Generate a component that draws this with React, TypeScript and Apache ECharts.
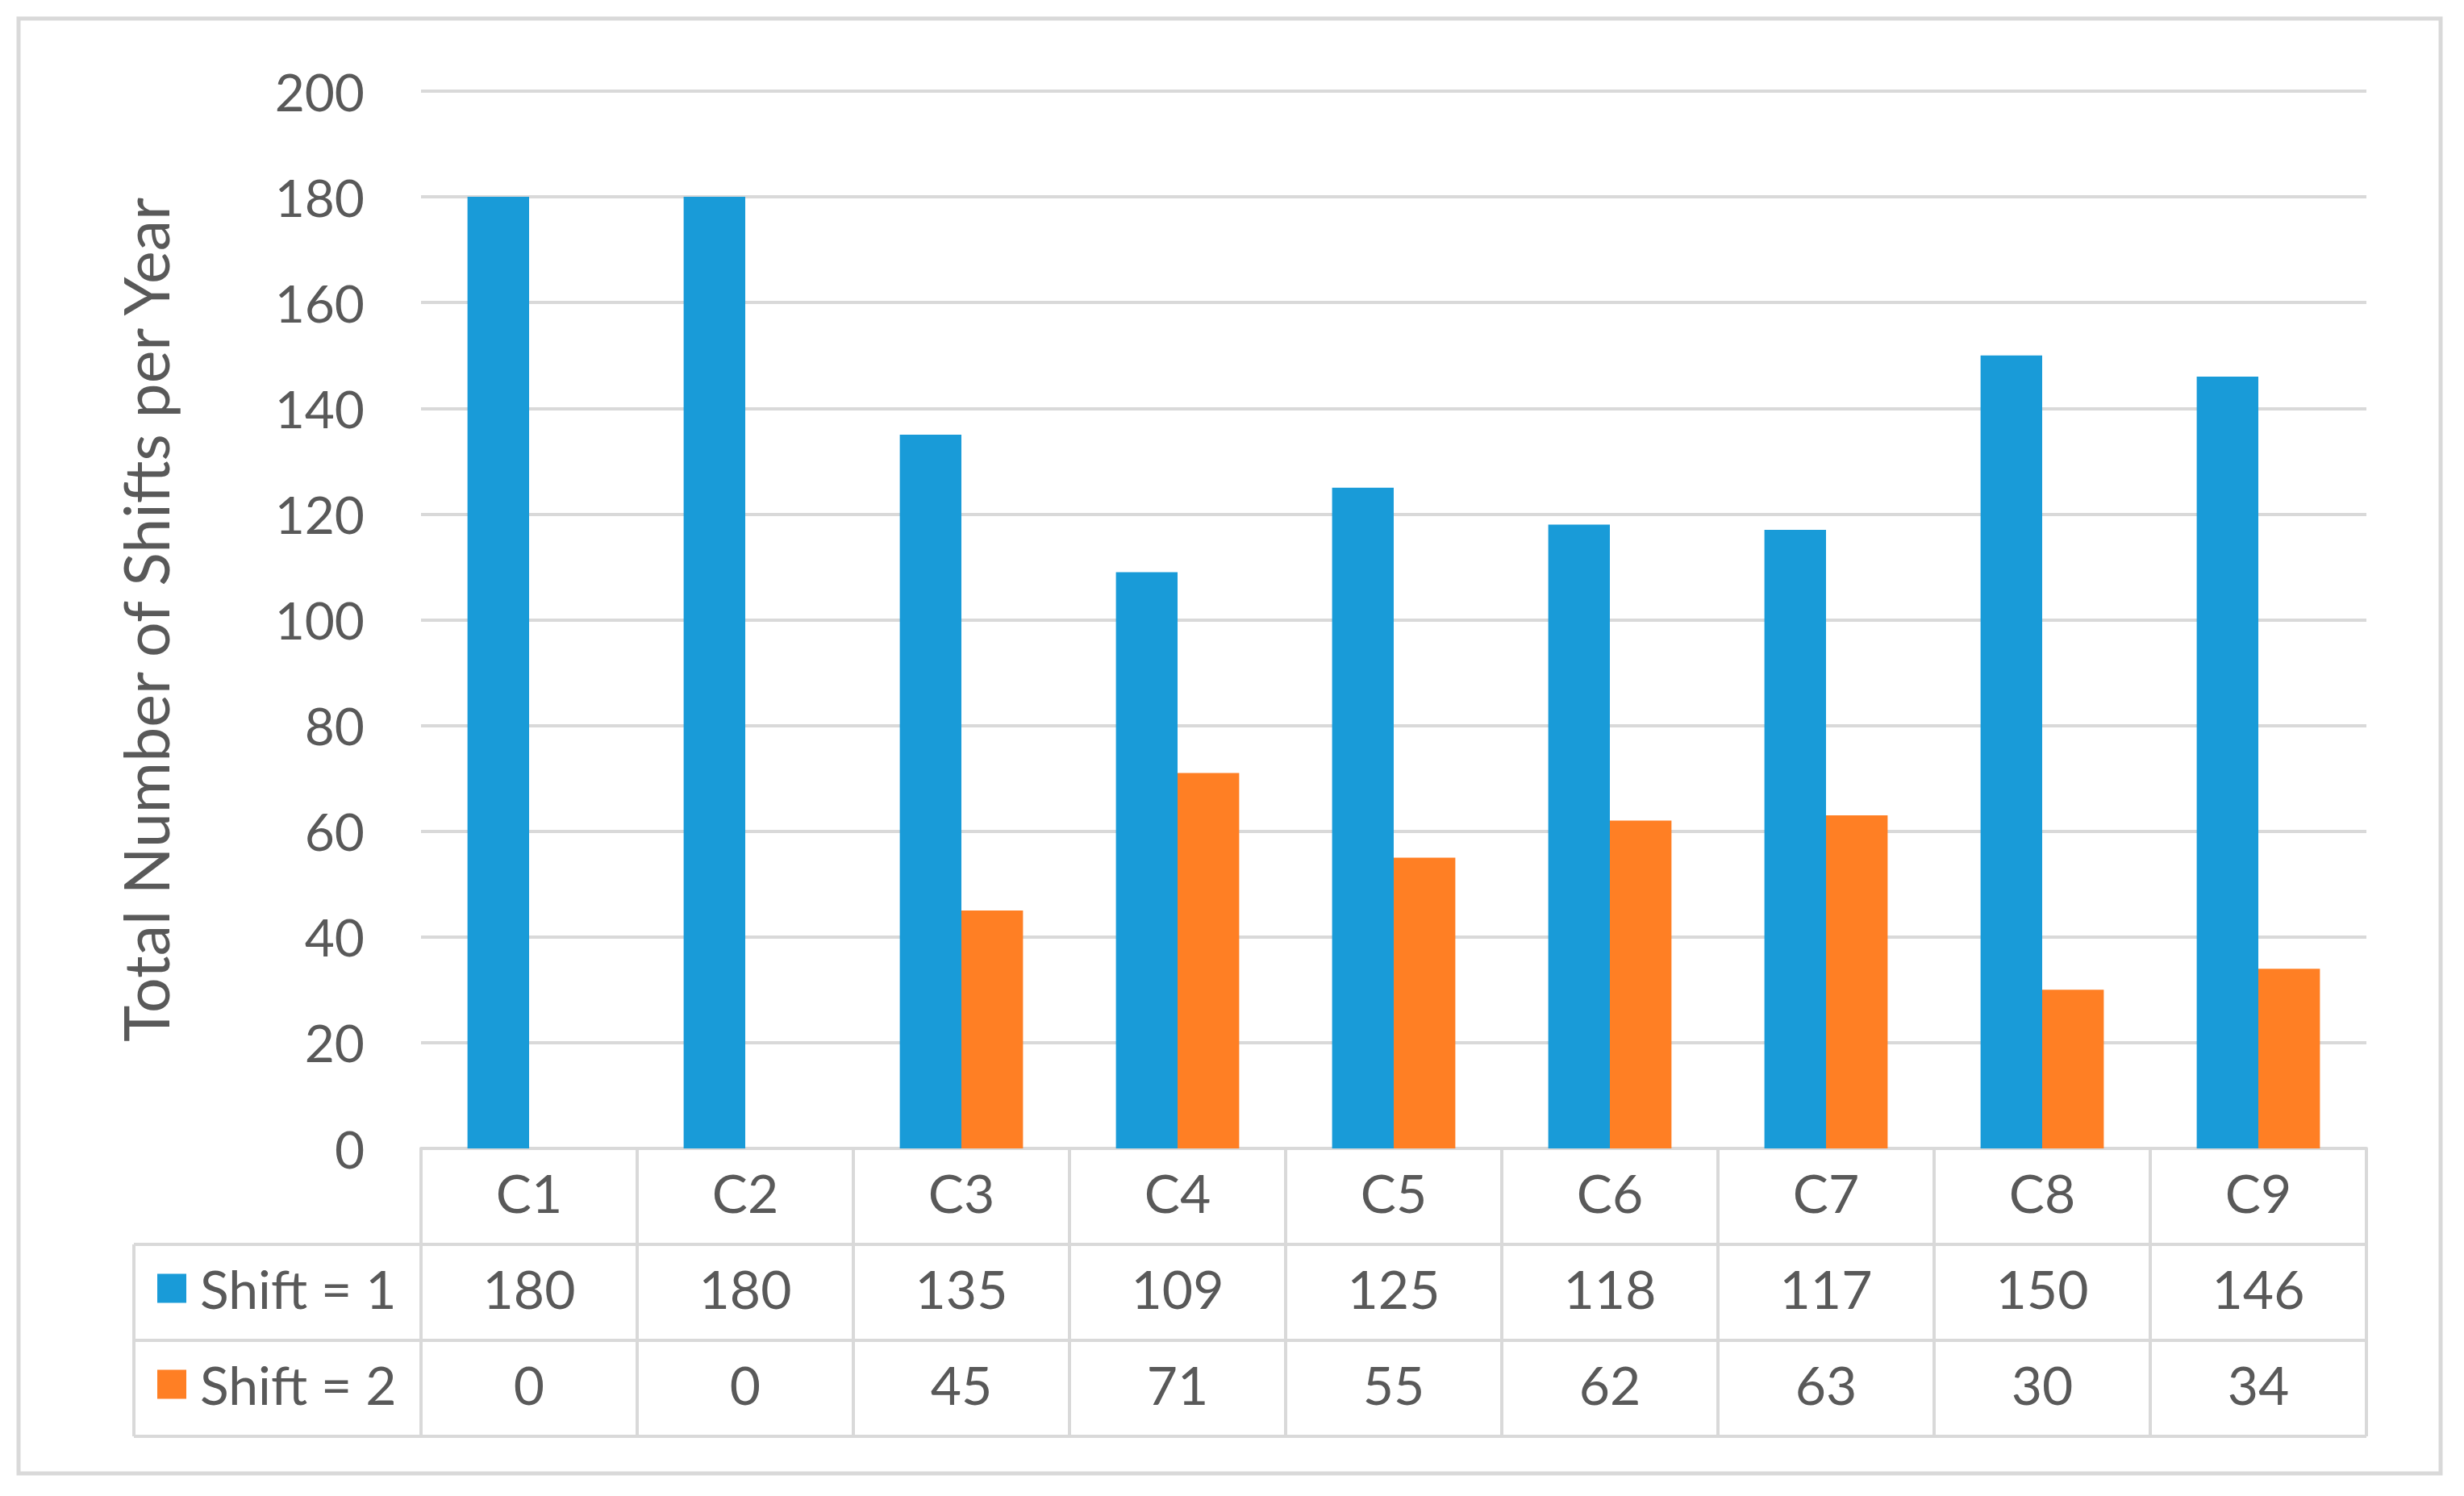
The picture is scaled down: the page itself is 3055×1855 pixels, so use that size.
import React, { useEffect, useRef } from 'react';
import * as echarts from 'echarts';

const categories = ['C1', 'C2', 'C3', 'C4', 'C5', 'C6', 'C7', 'C8', 'C9'];
const shiftOne = [180, 180, 135, 109, 125, 118, 117, 150, 146];
const shiftTwo = [0, 0, 45, 71, 55, 62, 63, 30, 34];
const seriesNames = ['Shift = 1', 'Shift = 2'];
const yAxisTitle = 'Total Number of Shifts per Year';
const yMin = 0;
const yMax = 200;
const yStep = 20;

const W = 3055;
const H = 1855;
const GRID = { left: 522, right: 121, top: 113, bottom: 431 };
const ROW_H = 119;
const TABLE_LEFT = 166;
const COLORS = ['#199bd8', '#ff7f24'];
const LINE = '#d9d9d9';
const TEXT = '#595959';
const FONT = 'Lato, "Liberation Sans", sans-serif';
const FS = 64;
const TFS = 66;

export default function App() {
  const ref = useRef<HTMLDivElement>(null);
  useEffect(() => {
    const chart = echarts.init(ref.current as HTMLDivElement, null, { renderer: 'svg', width: W, height: H });
    const axisY = H - GRID.bottom;
    const gridRight = W - GRID.right;
    const rowLines = [1, 2, 3].map((i) => axisY + i * ROW_H);
    const values = [shiftOne, shiftTwo];
    chart.setOption({
      animation: false,
      backgroundColor: '#ffffff',
      textStyle: { fontFamily: FONT },
      color: COLORS,
      grid: { left: GRID.left, right: GRID.right, top: GRID.top, bottom: GRID.bottom, containLabel: false },
      legend: {
        orient: 'vertical',
        left: 195,
        top: axisY + ROW_H - 5,
        padding: 0,
        itemGap: 0,
        itemWidth: 36,
        itemHeight: 36,
        icon: 'rect',
        selectedMode: false,
        textStyle: { fontSize: TFS, color: TEXT, lineHeight: ROW_H, padding: [0, 0, 0, 12], fontFamily: FONT },
        data: seriesNames,
      },
      xAxis: {
        type: 'category',
        data: categories,
        axisLine: { show: true, lineStyle: { color: LINE, width: 4 } },
        axisTick: { show: true, interval: 0, length: 3 * ROW_H, lineStyle: { color: LINE, width: 4 } },
        axisLabel: {
          interval: 0,
          margin: -5,
          formatter: (v: string, i: number) => `{h|${v}}\n{d|${values[0][i]}}\n{d|${values[1][i]}}`,
          rich: {
            h: { fontSize: TFS, lineHeight: ROW_H, color: TEXT, fontFamily: FONT },
            d: { fontSize: TFS, lineHeight: ROW_H, color: TEXT, fontFamily: FONT },
          },
        },
      },
      yAxis: {
        type: 'value',
        min: yMin,
        max: yMax,
        interval: yStep,
        name: yAxisTitle,
        nameLocation: 'middle',
        nameGap: 304,
        nameTextStyle: { fontSize: 77, color: TEXT, fontFamily: FONT },
        axisLine: { show: false },
        axisTick: { show: false },
        axisLabel: { fontSize: FS, color: TEXT, margin: 70, fontFamily: FONT },
        splitLine: { lineStyle: { color: LINE, width: 4 } },
      },
      series: seriesNames.map((name, k) => ({
        name,
        type: 'bar',
        data: values[k],
        barGap: '0%',
        barCategoryGap: '43%',
        itemStyle: { color: COLORS[k] },
      })),
      graphic: [
        {
          type: 'rect',
          shape: { x: 23, y: 23, width: 3003, height: 1804 },
          style: { fill: 'none', stroke: LINE, lineWidth: 5 },
          silent: true,
        },
        ...rowLines.map((y) => ({
          type: 'line',
          shape: { x1: TABLE_LEFT, y1: y, x2: gridRight, y2: y },
          style: { stroke: LINE, lineWidth: 4 },
          silent: true,
        })),
        {
          type: 'line',
          shape: { x1: TABLE_LEFT, y1: rowLines[0], x2: TABLE_LEFT, y2: rowLines[2] },
          style: { stroke: LINE, lineWidth: 4 },
          silent: true,
        },
      ],
    });
    return () => chart.dispose();
  }, []);
  return <div ref={ref} style={{ position: 'fixed', left: 0, top: 0, width: W, height: H }} />;
}
